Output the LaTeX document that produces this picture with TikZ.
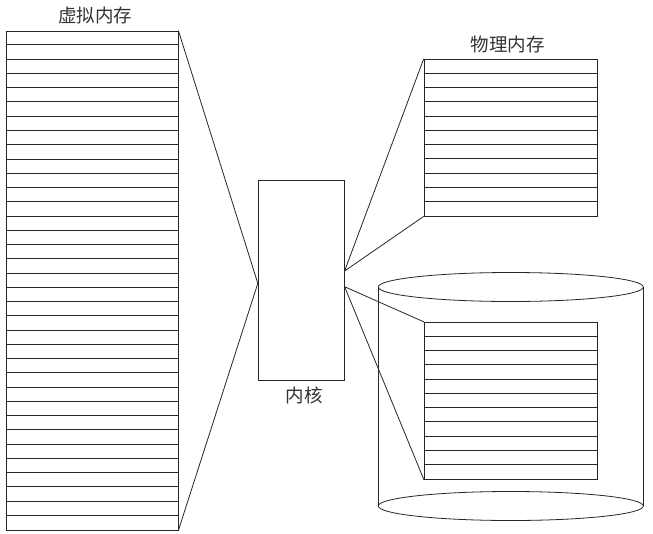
\documentclass[tikz,border=0pt]{standalone}
\usepackage{fontspec}
\newfontfamily\cjk{Noto Sans CJK SC}
\usetikzlibrary{calc,positioning,shapes.geometric}

\begin{document}
\begin{tikzpicture}[x=1pt,y=-1pt,line width=0.8pt,draw=black!85,
    box/.style={draw,inner sep=0pt},
    disk/.style={draw,ellipse,inner sep=0pt,minimum width=265pt,minimum height=29pt},
    lbl/.style={font=\cjk\fontsize{18.5}{18.5}\selectfont,text=black!80,inner sep=1pt}]
    \useasboundingbox (0,0) rectangle (653,533);

    \node[box,minimum width=172pt,minimum height=499pt]   (vmem)   at (92,280.5) {};
    \node[box,minimum width=86pt,minimum height=199.5pt]  (kernel) at (301.2,280.4) {};
    \node[box,minimum width=173.3pt,minimum height=156.7pt] (pmem) at (510.7,137.7) {};
    \node[disk] (disktop) at (510.8,287) {};
    \node[disk] (diskbot) at (510.8,506) {};
    \node[box,minimum width=173pt,minimum height=157pt]   (swap)   at (510.8,400.8) {};

    \node[lbl,above=5pt of vmem,xshift=3pt]    (vmemlbl)   {虚拟内存};
    \node[lbl,above=5pt of pmem,xshift=-3pt]   (pmemlbl)   {物理内存};
    \node[lbl,below=5pt of kernel,xshift=3pt]  (kernellbl) {内核};

    % stripes
    \foreach \i in {1,...,34}
      \draw (vmem.north west) ++(0,\i*14.257) -- ++(172,0);
    \foreach \i in {1,...,10}
      \draw (pmem.north west) ++(0,\i*14.245) -- ++(173.3,0);
    \foreach \i in {1,...,10}
      \draw (swap.north west) ++(0,\i*14.27) -- ++(173,0);

    % disk walls
    \draw (disktop.west) -- (diskbot.west);
    \draw (disktop.east) -- (diskbot.east);

    \coordinate (kin)   at ($(kernel.west)+(0,3)$);
    \coordinate (kout1) at ($(kernel.east)+(0,-9.4)$);
    \coordinate (kout2) at ($(kernel.east)+(0,6.3)$);

    \draw (vmem.north east) -- (kin) -- (vmem.south east);
    \draw (pmem.north west) -- (kout1) -- (pmem.south west);
    \draw (swap.north west) -- (kout2) -- (swap.south west);
\end{tikzpicture}
\end{document}
